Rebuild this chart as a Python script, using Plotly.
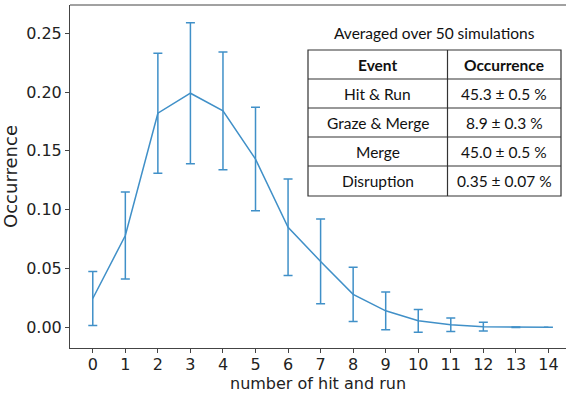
import plotly.graph_objects as go

hits = list(range(15))
occurrence = [0.0245, 0.078, 0.182, 0.199, 0.184, 0.143, 0.085, 0.056, 0.028, 0.014, 0.0055, 0.0022, 0.0005, 0.0001, 0.0]
err = [0.023, 0.037, 0.051, 0.060, 0.050, 0.044, 0.041, 0.036, 0.023, 0.016, 0.0097, 0.0057, 0.0037, 0.0002, 0.0]

y_ticks = [0.00, 0.05, 0.10, 0.15, 0.20, 0.25]

table_title = "Averaged over 50 simulations"
table_header = ["Event", "Occurrence"]
table_events = ["Hit & Run", "Graze & Merge", "Merge", "Disruption"]
table_values = ["45.3 ± 0.5 %", "8.9 ± 0.3 %", "45.0 ± 0.5 %", "0.35 ± 0.07 %"]

W, H = 566, 393
ML, MR, MT, MB = 70, 0, 5, 45
pw, ph = W - ML - MR, H - MT - MB

def px(x):
    return (x - ML) / pw

def py(y):
    return (H - MB - y) / ph

color = "#4090c8"

fig = go.Figure()
fig.add_trace(go.Scatter(
    x=hits, y=occurrence, mode="lines",
    line=dict(color=color, width=1.5),
    error_y=dict(type="data", array=err, visible=True, color=color, thickness=1.5, width=4.5),
    showlegend=False, hoverinfo="skip",
))

axis_font = dict(family="DejaVu Sans", size=16, color="#222")
fig.update_xaxes(
    range=[-0.7, 14.54], tickmode="array", tickvals=hits, ticktext=[str(h) for h in hits],
    showgrid=False, zeroline=False, showline=True, linecolor="#444", linewidth=1, mirror=False,
    ticks="outside", ticklen=4, tickcolor="#444", tickfont=axis_font, automargin=False,
    ticklabelstandoff=-2,
    title=dict(text="number of hit and run", font=axis_font, standoff=7),
)
fig.update_yaxes(
    range=[-0.0176, 0.274], tickmode="array", tickvals=y_ticks, ticktext=[f"{v:.2f}" for v in y_ticks],
    showgrid=False, zeroline=False, showline=True, linecolor="#444", linewidth=1,
    ticks="outside", ticklen=4, tickcolor="#444", tickfont=axis_font, automargin=False,
    title=dict(text="Occurrence", font=dict(family="DejaVu Sans", size=18, color="#222"), standoff=4),
)

shapes = []
# top spine
shapes.append(dict(type="line", xref="paper", yref="paper", x0=0, x1=1, y0=1, y1=1,
                   line=dict(color="#444", width=1)))

# table geometry (pixels)
tl, tr, tm = 308, 561, 447.5
rows_y = [50, 79, 108, 137, 166, 196]
shapes.append(dict(type="rect", xref="paper", yref="paper", x0=px(tl), x1=px(tr),
                   y0=py(rows_y[-1]), y1=py(rows_y[0]), fillcolor="white",
                   line=dict(color="#333", width=1.2)))
for ry in rows_y[1:-1]:
    shapes.append(dict(type="line", xref="paper", yref="paper", x0=px(tl), x1=px(tr),
                       y0=py(ry), y1=py(ry), line=dict(color="#333", width=1.2)))
shapes.append(dict(type="line", xref="paper", yref="paper", x0=px(tm), x1=px(tm),
                   y0=py(rows_y[-1]), y1=py(rows_y[0]), line=dict(color="#333", width=1.2)))

tfont = dict(family="Lato", size=15.5, color="#111")
ann = []
ann.append(dict(text=table_title, x=px((tl + tr) / 2), y=py(33), xref="paper", yref="paper",
                showarrow=False, font=tfont, xanchor="center", yanchor="middle"))
c1, c2 = (tl + tm) / 2, (tm + tr) / 2
hy = (rows_y[0] + rows_y[1]) / 2
ann.append(dict(text="<b>" + table_header[0] + "</b>", x=px(c1), y=py(hy), xref="paper", yref="paper",
                showarrow=False, font=tfont, xanchor="center", yanchor="middle"))
ann.append(dict(text="<b>" + table_header[1] + "</b>", x=px(c2), y=py(hy), xref="paper", yref="paper",
                showarrow=False, font=tfont, xanchor="center", yanchor="middle"))
for i, (e, v) in enumerate(zip(table_events, table_values)):
    cy = (rows_y[i + 1] + rows_y[i + 2]) / 2
    ann.append(dict(text=e, x=px(c1), y=py(cy), xref="paper", yref="paper",
                    showarrow=False, font=tfont, xanchor="center", yanchor="middle"))
    ann.append(dict(text=v, x=px(c2), y=py(cy), xref="paper", yref="paper",
                    showarrow=False, font=tfont, xanchor="center", yanchor="middle"))

fig.update_layout(
    width=W, height=H, margin=dict(l=ML, r=MR, t=MT, b=MB),
    plot_bgcolor="white", paper_bgcolor="white",
    shapes=shapes, annotations=ann,
)
fig.write_html("out.html", config={"displayModeBar": False},
               post_script="document.body.style.margin='0';document.body.style.overflow='hidden';")
